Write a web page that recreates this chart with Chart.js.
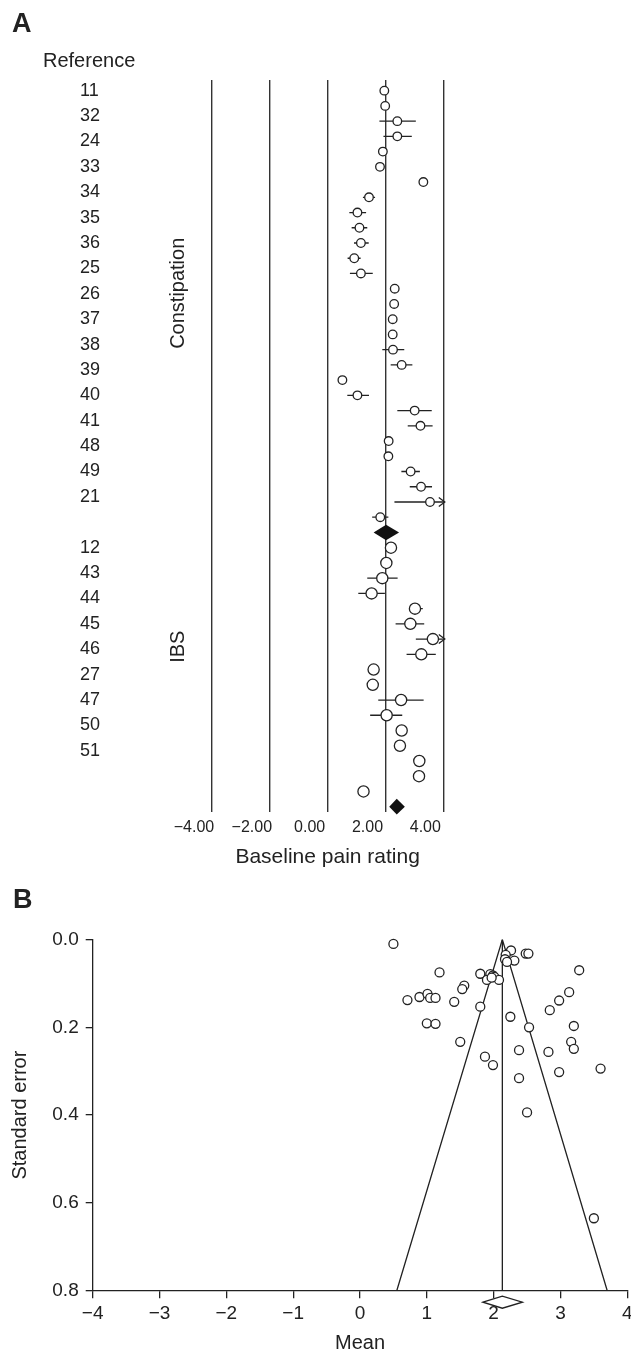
<!DOCTYPE html>
<html>
<head>
<meta charset="utf-8">
<script src="https://cdn.jsdelivr.net/npm/chart.js@4.4.1/dist/chart.umd.min.js"></script>
<style>
  html, body { margin: 0; padding: 0; background: #fff; overflow: hidden; width: 631px; height: 1356px; }
  canvas { position: absolute; left: 0; }
  #panelA { top: 0; }
  #panelB { top: 870px; }
</style>
</head>
<body>
<canvas id="panelA" width="631" height="880"></canvas>
<canvas id="panelB" width="660" height="486"></canvas>
<script>
// Panel A: etiquetas de referencia (hueco vacío entre los dos grupos)
const refLabels = ['11','32','24','33','34','35','36','25','26','37','38','39','40','41','48','49','21','',
                   '12','43','44','45','46','27','47','50','51'];

// Constipation: media y IC por estudio (null = IC no visible)
const constMean = [1.96,1.99,2.41,2.41,1.91,1.81,3.31,1.43,1.03,1.10,1.15,0.92,1.15,2.32,2.30,2.25,2.25,2.26,2.56,0.51,1.03,3.01,3.21,2.11,2.10,2.87,3.23,3.54,1.82];
const constLo   = [null,null,1.79,1.93,null,null,null,1.22,0.75,0.83,0.91,0.69,0.77,null,null,null,null,1.89,2.18,null,0.68,2.41,2.77,null,null,2.55,2.84,2.31,1.54];
const constHi   = [null,null,3.05,2.91,null,null,null,1.64,1.33,1.37,1.42,1.14,1.56,null,null,null,null,2.65,2.93,null,1.43,3.60,3.63,null,null,3.19,3.61,4.60,2.10];
const constPooled = [1.59, 2.02, 2.47]; // lo, media, hi

// IBS
const ibsMean = [2.19,2.03,1.89,1.52,3.02,2.86,3.64,3.24,1.59,1.56,2.54,2.04,2.56,2.50,3.17,3.16,1.24];
const ibsLo   = [null,null,1.37,1.06,2.88,2.35,3.05,2.73,null,null,1.75,1.47,null,null,null,null,null];
const ibsHi   = [null,null,2.42,1.98,3.29,3.34,4.50,3.74,null,null,3.32,2.58,null,null,null,null,null];
const ibsPooled = [2.13, 2.39, 2.67];

const axisATicks = [-4, -2, 0, 2, 4];

// Panel B: funnel plot
const funnelMean = [0.50,2.26,2.18,2.17,2.31,2.20,2.48,2.52,3.28,1.19,1.80,1.95,1.99,2.01,1.90,2.08,1.97,1.56,1.53,3.13,2.98,0.71,0.89,1.01,1.05,1.13,1.41,2.84,1.80,2.25,1.00,1.13,2.53,3.20,1.50,3.16,3.20,2.38,2.82,1.87,1.99,2.98,3.60,2.38,2.50,3.50];
const funnelSE   = [0.010,0.025,0.035,0.045,0.048,0.051,0.032,0.032,0.070,0.075,0.078,0.079,0.082,0.085,0.092,0.092,0.087,0.105,0.113,0.120,0.139,0.138,0.131,0.124,0.133,0.133,0.142,0.161,0.153,0.176,0.191,0.192,0.200,0.197,0.233,0.233,0.249,0.252,0.256,0.267,0.286,0.302,0.294,0.316,0.394,0.635];
const pooledMeanB = 2.13;
const pooledCiB = [1.84, 2.43];
const funnelEdgeX  = [0.55, 2.13, 3.70];
const funnelEdgeSE = [0.8, 0, 0.8];

const FONT = "'Liberation Sans', Arial, sans-serif";
const INK = '#222';
Chart.defaults.font.family = FONT;
Chart.defaults.color = INK;

// Filas: constipation 0..28, diamante 29, IBS 30..46, diamante 47
const constPooledRow = constMean.length;
const ibsStart = constPooledRow + 1;
const ibsPooledRow = ibsStart + ibsMean.length;
const rowMin = -0.7, rowMax = ibsPooledRow + 0.33;

const circlePoints = constMean.map((m, i) => ({x: m, y: i}))
  .concat(ibsMean.map((m, i) => ({x: m, y: ibsStart + i})));
const circleRadii = constMean.map(() => 4.3).concat(ibsMean.map(() => 5.6));

const ciSegments = (lo, hi, start) => {
  const pts = [];
  lo.forEach((l, i) => {
    if (l === null) return;
    pts.push({x: l, y: start + i}, {x: Math.min(hi[i], 4), y: start + i}, {x: null, y: null});
  });
  return pts;
};
const ciPoints = ciSegments(constLo, constHi, 0).concat(ciSegments(ibsLo, ibsHi, ibsStart));

const minusLabel = (v, digits) => (v < 0 ? '\u2212' : '') + Math.abs(v).toFixed(digits);

const panelAExtras = {
  id: 'panelAExtras',
  afterDatasetsDraw(chart) {
    const {ctx, scales: {x, y}} = chart;
    ctx.save();
    // diamantes combinados
    [[constPooled, constPooledRow], [ibsPooled, ibsPooledRow]].forEach(([p, row]) => {
      const py = y.getPixelForValue(row);
      ctx.beginPath();
      ctx.moveTo(x.getPixelForValue(p[0]), py);
      ctx.lineTo(x.getPixelForValue(p[1]), py - 7.8);
      ctx.lineTo(x.getPixelForValue(p[2]), py);
      ctx.lineTo(x.getPixelForValue(p[1]), py + 7.8);
      ctx.closePath();
      ctx.fillStyle = '#111';
      ctx.fill();
    });
    // flechas para IC fuera del eje
    ctx.strokeStyle = INK;
    ctx.lineWidth = 1.3;
    [[constHi, 0], [ibsHi, ibsStart]].forEach(([hi, start]) => {
      hi.forEach((h, i) => {
        if (h === null || h <= 4) return;
        const tip = x.getPixelForValue(4) + 1.5;
        const py = y.getPixelForValue(start + i);
        ctx.beginPath();
        ctx.moveTo(tip - 6, py - 4.5);
        ctx.lineTo(tip, py);
        ctx.lineTo(tip - 6, py + 4.5);
        ctx.stroke();
      });
    });
    // textos
    ctx.fillStyle = INK;
    ctx.textBaseline = 'middle';
    ctx.font = `bold 27px ${FONT}`;
    ctx.fillText('A', 12, 25);
    ctx.font = `20px ${FONT}`;
    ctx.fillText('Reference', 43, 61);
    ctx.textAlign = 'center';
    [['Constipation', 13.3], ['IBS', 36.5]].forEach(([t, row]) => {
      ctx.save();
      ctx.translate(178.5, y.getPixelForValue(row));
      ctx.rotate(-Math.PI / 2);
      ctx.fillText(t, 0, 0);
      ctx.restore();
    });
    ctx.restore();
  }
};

new Chart(document.getElementById('panelA'), {
  type: 'scatter',
  data: {
    datasets: [
      { data: circlePoints, pointRadius: circleRadii, pointBackgroundColor: '#fff',
        pointBorderColor: INK, pointBorderWidth: 1.3, order: 0, clip: false },
      { data: ciPoints, showLine: true, pointRadius: 0, borderColor: INK, borderWidth: 1.3,
        spanGaps: false, order: 1, clip: false }
    ]
  },
  options: {
    responsive: false,
    animation: false,
    events: [],
    layout: { autoPadding: false, padding: { left: 80, right: 187.7, top: 80, bottom: 0 } },
    plugins: { legend: { display: false }, tooltip: { enabled: false } },
    scales: {
      x: {
        type: 'linear', min: -4, max: 4,
        afterBuildTicks: s => { s.ticks = axisATicks.map(v => ({value: v})); },
        ticks: { callback: v => minusLabel(v, 2), labelOffset: -18, padding: 6, autoSkip: false,
                 maxRotation: 0, font: { size: 16 }, color: INK },
        grid: { color: '#333', lineWidth: 1.4, drawTicks: false },
        border: { display: false },
        title: { display: true, text: 'Baseline pain rating', font: { size: 21 }, color: INK,
                 padding: { top: 0, bottom: 10 } },
        afterFit: s => { s.height = 68.3; }
      },
      y: { type: 'linear', reverse: true, min: rowMin, max: rowMax, display: false },
      yRef: {
        type: 'linear', position: 'left', reverse: true, min: rowMin, max: rowMax,
        afterBuildTicks: s => { s.ticks = refLabels.map((_, i) => ({value: i * 5 / 3})); },
        ticks: { crossAlign: 'far', autoSkip: false, callback: (v, i) => refLabels[i],
                 font: { size: 18 }, color: INK },
        grid: { display: false },
        border: { display: false },
        afterFit: s => { s.width = 132; }
      }
    }
  },
  plugins: [panelAExtras]
});

const panelBExtras = {
  id: 'panelBExtras',
  afterDatasetsDraw(chart) {
    const {ctx, scales: {x, y}} = chart;
    ctx.save();
    const cx = x.getPixelForValue(pooledMeanB);
    const cy = y.getPixelForValue(0.8) + 11.5;
    ctx.beginPath();
    ctx.moveTo(x.getPixelForValue(pooledCiB[0]), cy);
    ctx.lineTo(cx, cy - 6);
    ctx.lineTo(x.getPixelForValue(pooledCiB[1]), cy);
    ctx.lineTo(cx, cy + 6);
    ctx.closePath();
    ctx.fillStyle = '#fff';
    ctx.fill();
    ctx.strokeStyle = INK;
    ctx.lineWidth = 1.3;
    ctx.stroke();
    ctx.fillStyle = INK;
    ctx.textBaseline = 'middle';
    ctx.font = `bold 27px ${FONT}`;
    ctx.fillText('B', 13, 31);
    ctx.restore();
  }
};

new Chart(document.getElementById('panelB'), {
  type: 'scatter',
  data: {
    datasets: [
      { data: funnelMean.map((m, i) => ({x: m, y: funnelSE[i]})), pointRadius: 4.5,
        pointBackgroundColor: '#fff', pointBorderColor: INK, pointBorderWidth: 1.3, order: 0, clip: false },
      { data: funnelEdgeX.map((v, i) => ({x: v, y: funnelEdgeSE[i]})), showLine: true, pointRadius: 0,
        borderColor: INK, borderWidth: 1.3, order: 1 },
      { data: [{x: pooledMeanB, y: 0}, {x: pooledMeanB, y: 0.8}], showLine: true, pointRadius: 0,
        borderColor: INK, borderWidth: 1.3, order: 1 }
    ]
  },
  options: {
    responsive: false,
    animation: false,
    events: [],
    layout: { autoPadding: false, padding: { left: 0, right: 660 - 627.3, top: 69.5, bottom: 0 } },
    plugins: { legend: { display: false }, tooltip: { enabled: false } },
    scales: {
      x: {
        type: 'linear', min: -4, max: 4,
        ticks: { stepSize: 1, callback: v => minusLabel(v, 0), padding: 4, maxRotation: 0,
                 autoSkip: false, font: { size: 19 }, color: INK },
        grid: { drawOnChartArea: false, tickLength: 7.6, color: INK, lineWidth: 1.3 },
        border: { color: INK, width: 1.3 },
        title: { display: true, text: 'Mean', font: { size: 20 }, color: INK, padding: { top: 0, bottom: 1 } },
        afterFit: s => { s.height = 65.3; }
      },
      y: {
        type: 'linear', reverse: true, min: 0, max: 0.8,
        ticks: { stepSize: 0.2, callback: v => v.toFixed(1), padding: 7, font: { size: 19 }, color: INK },
        grid: { drawOnChartArea: false, tickLength: 7, color: INK, lineWidth: 1.3 },
        border: { color: INK, width: 1.3 },
        title: { display: true, text: 'Standard error', font: { size: 20 }, color: INK, padding: { top: 8, bottom: 0 } },
        afterFit: s => { s.width = 92.7; }
      }
    }
  },
  plugins: [panelBExtras]
});
</script>
</body>
</html>
